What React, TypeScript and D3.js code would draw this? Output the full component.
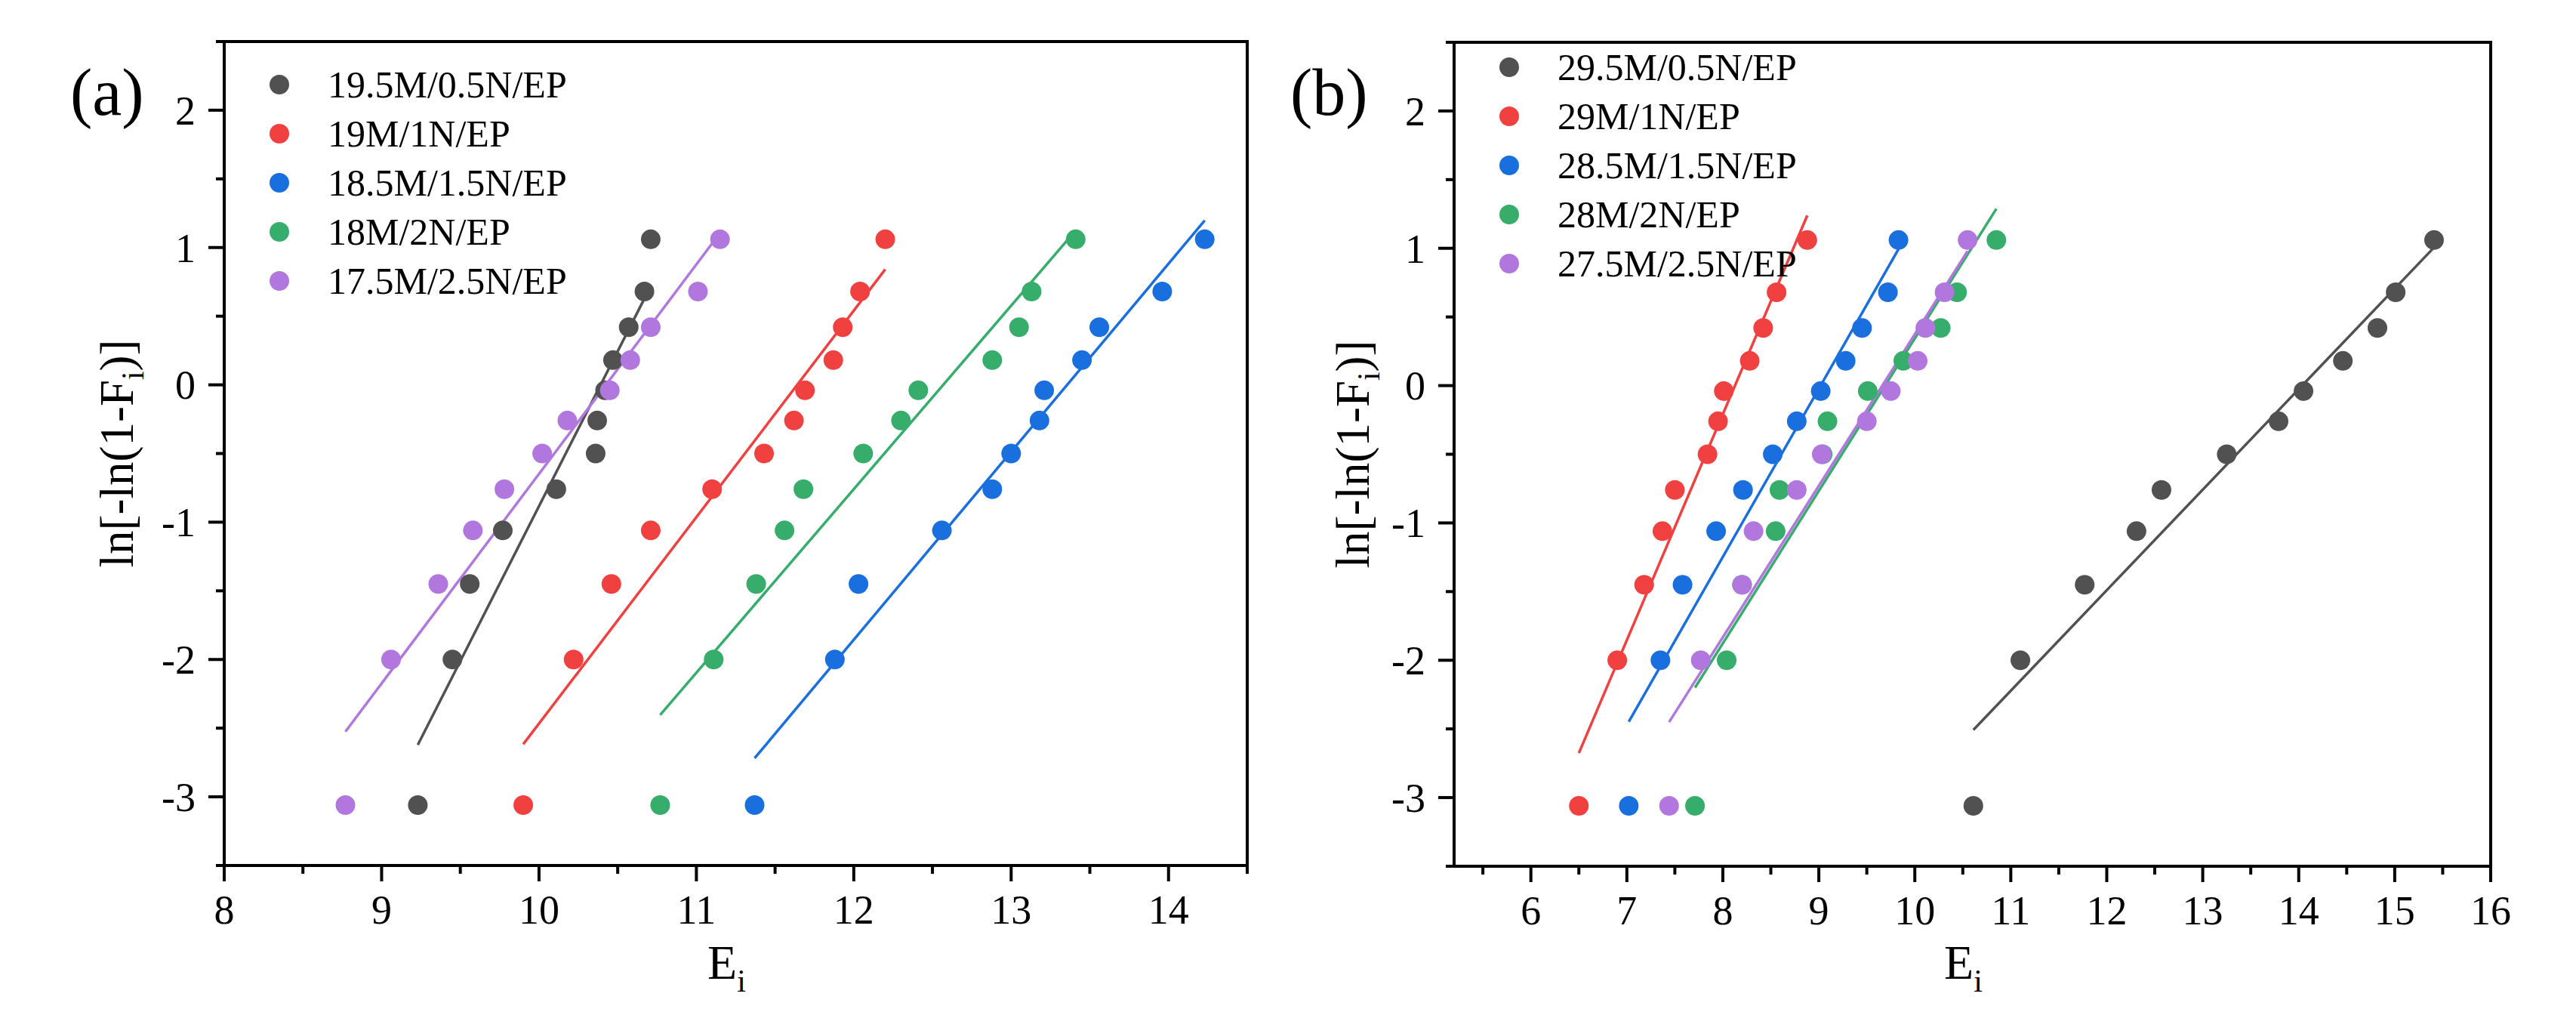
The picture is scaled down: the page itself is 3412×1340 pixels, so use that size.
import * as d3 from "d3"

// shared ordinate levels ln[-ln(1-Fi)] (same for every series)
const Y_LEVELS = [-3.06, -2.0, -1.45, -1.06, -0.76, -0.5, -0.26, -0.04, 0.18, 0.42, 0.68, 1.06]

// panel (a) Ei values
const A_LABELS = ["19.5M/0.5N/EP", "19M/1N/EP", "18.5M/1.5N/EP", "18M/2N/EP", "17.5M/2.5N/EP"]
const A_BLACK = [9.23, 9.45, 9.56, 9.77, 10.11, 10.36, 10.37, 10.42, 10.47, 10.57, 10.67, 10.71]
const A_RED = [9.9, 10.22, 10.46, 10.71, 11.1, 11.43, 11.62, 11.69, 11.87, 11.93, 12.04, 12.2]
const A_BLUE = [11.37, 11.88, 12.03, 12.56, 12.88, 13.0, 13.18, 13.21, 13.45, 13.56, 13.96, 14.23]
const A_GREEN = [10.77, 11.11, 11.38, 11.56, 11.68, 12.06, 12.3, 12.41, 12.88, 13.05, 13.13, 13.41]
const A_PURPLE = [8.77, 9.06, 9.36, 9.58, 9.78, 10.02, 10.18, 10.45, 10.58, 10.71, 11.01, 11.15]

// panel (b) Ei values
const B_LABELS = ["29.5M/0.5N/EP", "29M/1N/EP", "28.5M/1.5N/EP", "28M/2N/EP", "27.5M/2.5N/EP"]
const B_BLACK = [10.61, 11.1, 11.77, 12.31, 12.57, 13.25, 13.79, 14.05, 14.46, 14.82, 15.01, 15.41]
const B_RED = [6.5, 6.9, 7.18, 7.37, 7.5, 7.84, 7.95, 8.01, 8.28, 8.42, 8.56, 8.88]
const B_BLUE = [7.02, 7.35, 7.58, 7.93, 8.21, 8.52, 8.77, 9.02, 9.28, 9.45, 9.72, 9.83]
const B_GREEN = [7.71, 8.04, 8.2, 8.55, 8.59, 9.04, 9.09, 9.51, 9.88, 10.27, 10.44, 10.85]
const B_PURPLE = [7.44, 7.77, 8.2, 8.32, 8.77, 9.03, 9.5, 9.75, 10.03, 10.11, 10.31, 10.55]

const COLORS = ["#515151", "#F14040", "#1A6FDF", "#37AD6B", "#B177DE"]

const Y_MAJOR = [-3, -2, -1, 0, 1, 2]
const Y_MINOR = [-3.5, -2.5, -1.5, -0.5, 0.5, 1.5, 2.5]
const A_X_MAJOR = [8, 9, 10, 11, 12, 13, 14]
const A_X_MINOR = [8.5, 9.5, 10.5, 11.5, 12.5, 13.5, 14.5]
const B_X_MAJOR = [6, 7, 8, 9, 10, 11, 12, 13, 14, 15, 16]
const B_X_MINOR = [5.5, 6.5, 7.5, 8.5, 9.5, 10.5, 11.5, 12.5, 13.5, 14.5, 15.5]

const FONT = "'Liberation Serif', 'Times New Roman', serif"

interface PanelProps {
  tag: string
  labels: string[]
  series: number[][]
  xDomain: [number, number]
  xMajor: number[]
  xMinor: number[]
  left: number
  right: number
  top: number
  bottom: number
  legendTop: number
  tagX: number
  ylabelOffset: number
}

// least squares fit of y on x, returned as a segment over the data's x range
function fit(xs: number[], ys: number[]) {
  const mx = d3.mean(xs)!
  const my = d3.mean(ys)!
  let sxy = 0
  let sxx = 0
  xs.forEach((x, i) => {
    sxy += (x - mx) * (ys[i] - my)
    sxx += (x - mx) * (x - mx)
  })
  const slope = sxy / sxx
  const [x0, x1] = d3.extent(xs) as [number, number]
  return [
    [x0, my + slope * (x0 - mx)],
    [x1, my + slope * (x1 - mx)],
  ] as [number, number][]
}

function Panel(p: PanelProps) {
  const x = d3.scaleLinear().domain(p.xDomain).range([p.left, p.right])
  const y = d3.scaleLinear().domain([-3.5, 2.5]).range([p.bottom, p.top])
  const line = d3.line<[number, number]>().x(d => x(d[0])).y(d => y(d[1]))
  const cx = (p.left + p.right) / 2
  const cy = (p.top + p.bottom) / 2

  return (
    <g>
      {/* fit lines */}
      {p.series.map((xs, i) => (
        <path key={"l" + i} d={line(fit(xs, Y_LEVELS))!} fill="none" stroke={COLORS[i]} strokeWidth={3.5} />
      ))}
      {/* points */}
      {p.series.map((xs, i) => (
        <g key={"p" + i} fill={COLORS[i]}>
          {xs.map((v, j) => (
            <circle key={j} cx={x(v)} cy={y(Y_LEVELS[j])} r={13} />
          ))}
        </g>
      ))}

      {/* frame */}
      <rect x={p.left} y={p.top} width={p.right - p.left} height={p.bottom - p.top} fill="none" stroke="#000" strokeWidth={4} />

      {/* y ticks */}
      {Y_MAJOR.map(v => (
        <g key={"ym" + v}>
          <line x1={p.left - 21} x2={p.left} y1={y(v)} y2={y(v)} stroke="#000" strokeWidth={4} />
          <text x={p.left - 38} y={y(v)} dy="0.35em" textAnchor="end" fontSize={54} fontFamily={FONT}>{String(v)}</text>
        </g>
      ))}
      {Y_MINOR.map(v => (
        <line key={"yn" + v} x1={p.left - 11} x2={p.left} y1={y(v)} y2={y(v)} stroke="#000" strokeWidth={4} />
      ))}

      {/* x ticks */}
      {p.xMajor.map(v => (
        <g key={"xm" + v}>
          <line x1={x(v)} x2={x(v)} y1={p.bottom} y2={p.bottom + 21} stroke="#000" strokeWidth={4} />
          <text x={x(v)} y={p.bottom + 77} textAnchor="middle" fontSize={54} fontFamily={FONT}>{String(v)}</text>
        </g>
      ))}
      {p.xMinor.map(v => (
        <line key={"xn" + v} x1={x(v)} x2={x(v)} y1={p.bottom} y2={p.bottom + 11} stroke="#000" strokeWidth={4} />
      ))}

      {/* axis titles */}
      <text x={cx - 12} y={1296} textAnchor="middle" fontSize={64} fontFamily={FONT}>
        E<tspan fontSize={42} dy={17}>i</tspan>
      </text>
      <text
        transform={`translate(${p.left - p.ylabelOffset},${cy}) rotate(-90)`}
        textAnchor="middle"
        fontSize={63}
        fontFamily={FONT}
      >
        ln[-ln(1-F<tspan fontSize={42} dy={14}>i</tspan><tspan dy={-14}>)]</tspan>
      </text>

      {/* panel tag */}
      <text x={p.tagX} y={152} fontSize={88} fontFamily={FONT}>{p.tag}</text>

      {/* legend */}
      {p.labels.map((lab, i) => (
        <g key={"lg" + i}>
          <circle cx={p.left + 73} cy={p.legendTop + i * 65} r={13} fill={COLORS[i]} />
          <text x={p.left + 137} y={p.legendTop + i * 65 + 17} fontSize={50} fontFamily={FONT}>{lab}</text>
        </g>
      ))}
    </g>
  )
}

export default function App() {
  return (
    <div style={{ position: "absolute", left: 0, top: 0, background: "#fff" }}>
      <svg width={3412} height={1340} style={{ display: "block" }}>
        <rect width={3412} height={1340} fill="#fff" />
        <Panel
          tag="(a)"
          labels={A_LABELS}
          series={[A_BLACK, A_RED, A_BLUE, A_GREEN, A_PURPLE]}
          xDomain={[8, 14.5]}
          xMajor={A_X_MAJOR}
          xMinor={A_X_MINOR}
          left={297}
          right={1652}
          top={55}
          bottom={1146}
          legendTop={112}
          tagX={93}
          ylabelOffset={121}
        />
        <Panel
          tag="(b)"
          labels={B_LABELS}
          series={[B_BLACK, B_RED, B_BLUE, B_GREEN, B_PURPLE]}
          xDomain={[5.2, 16]}
          xMajor={B_X_MAJOR}
          xMinor={B_X_MINOR}
          left={1926}
          right={3299}
          top={56}
          bottom={1147}
          legendTop={89}
          tagX={1709}
          ylabelOffset={113}
        />
      </svg>
    </div>
  )
}
